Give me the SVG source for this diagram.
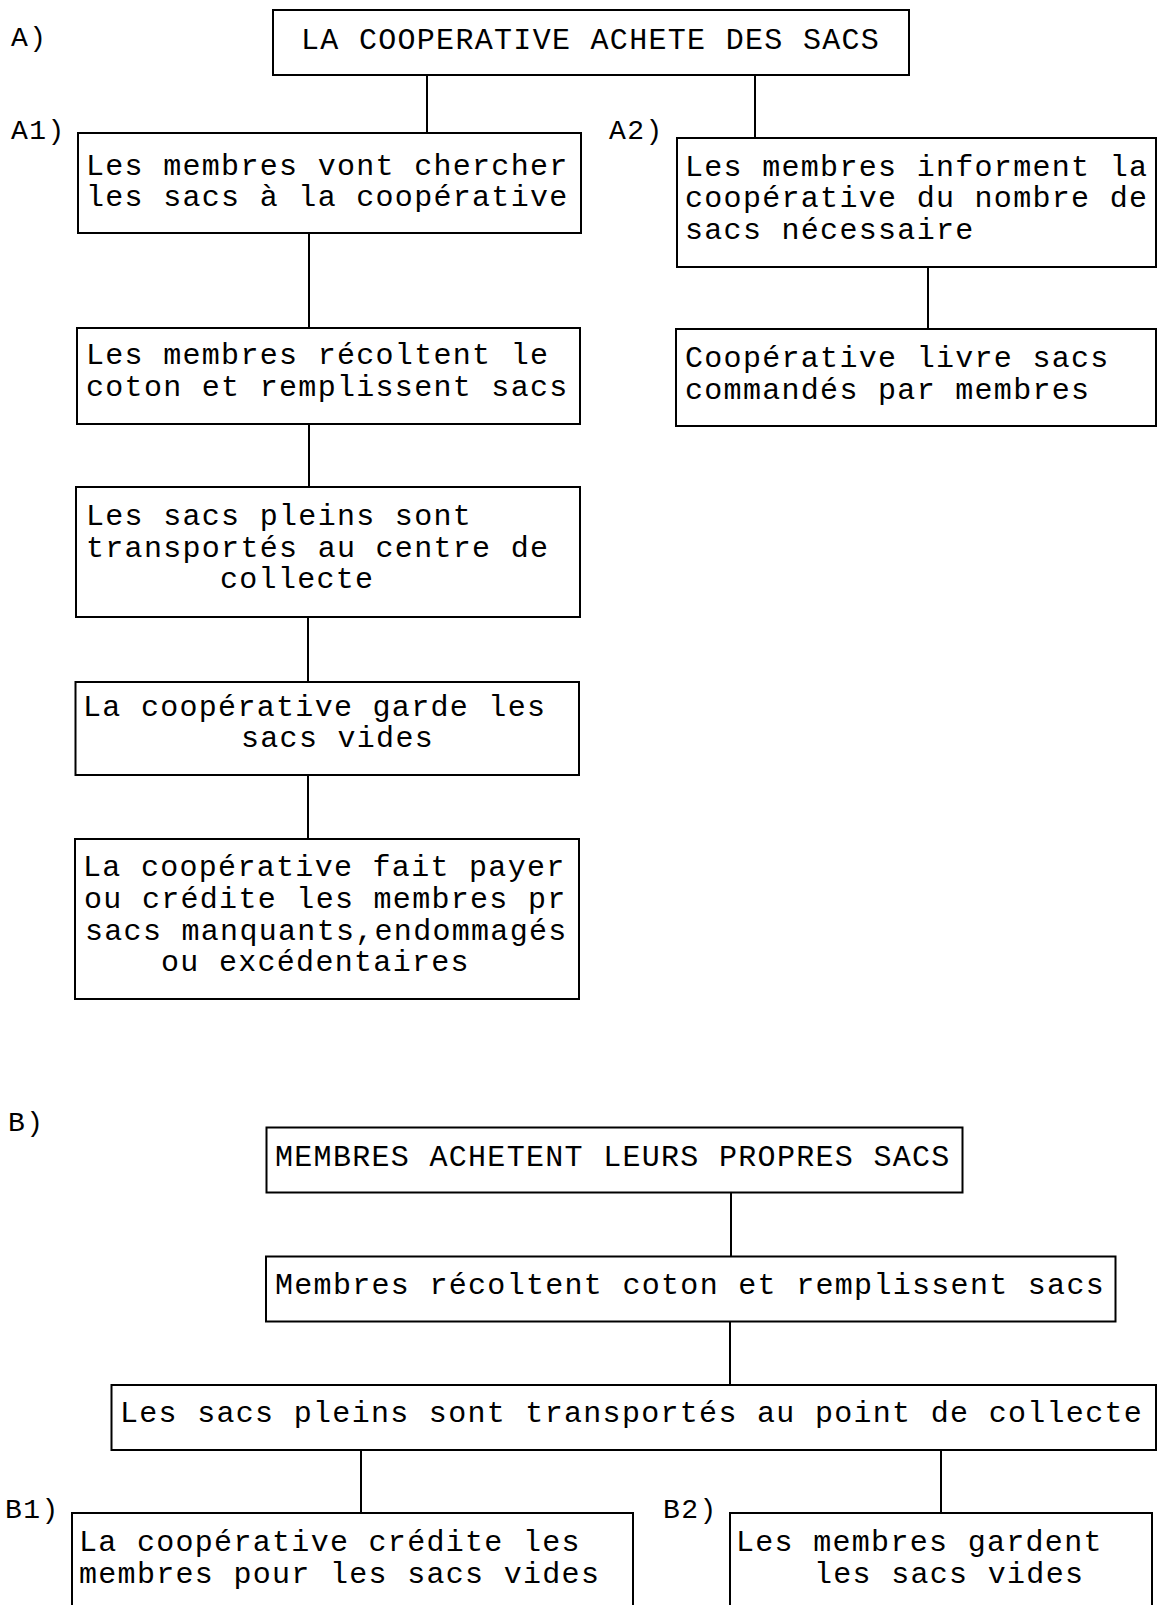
<svg xmlns="http://www.w3.org/2000/svg" width="1158" height="1605" viewBox="0 0 1158 1605">
<style>
.box{fill:#fff;stroke:#000;stroke-width:2}
.t{font-family:"Liberation Mono","DejaVu Sans Mono",monospace;font-size:30px;letter-spacing:1.3px;fill:#000}
.lbl{font-family:"Liberation Mono","DejaVu Sans Mono",monospace;font-size:28px;letter-spacing:1.5px;fill:#000}
.c{stroke:#000;stroke-width:2;fill:none}
</style>
<rect width="1158" height="1605" fill="#fff"/>
<g id="connectors">
<line class="c" x1="427" y1="75" x2="427" y2="133"/>
<line class="c" x1="755" y1="75" x2="755" y2="138"/>
<line class="c" x1="309" y1="233" x2="309" y2="328"/>
<line class="c" x1="928" y1="267" x2="928" y2="329"/>
<line class="c" x1="309" y1="424" x2="309" y2="487"/>
<line class="c" x1="308" y1="617" x2="308" y2="682"/>
<line class="c" x1="308" y1="775" x2="308" y2="839"/>
<line class="c" x1="731" y1="1192" x2="731" y2="1256"/>
<line class="c" x1="730" y1="1321" x2="730" y2="1385"/>
<line class="c" x1="361" y1="1450" x2="361" y2="1513"/>
<line class="c" x1="941" y1="1450" x2="941" y2="1513"/>
</g>
<g id="labels">
<text class="lbl" x="11" y="46">A)</text>
<text class="lbl" x="11" y="139">A1)</text>
<text class="lbl" x="609" y="139">A2)</text>
<text class="lbl" x="8" y="1131">B)</text>
<text class="lbl" x="5" y="1518">B1)</text>
<text class="lbl" x="663" y="1518">B2)</text>
</g>
<g id="nA">
<rect class="box" x="273" y="10" width="636" height="65"/>
<text class="t" x="301" y="49">LA COOPERATIVE ACHETE DES SACS</text>
</g>
<g id="nA1">
<rect class="box" x="78" y="133" width="503" height="100"/>
<text class="t" x="86" y="175">Les membres vont chercher</text>
<text class="t" x="86" y="206">les sacs à la coopérative</text>
</g>
<g id="nA2">
<rect class="box" x="677" y="138" width="479" height="129"/>
<text class="t" x="685" y="176">Les membres informent la</text>
<text class="t" x="685" y="207">coopérative du nombre de</text>
<text class="t" x="685" y="239">sacs nécessaire</text>
</g>
<g id="nA2b">
<rect class="box" x="676" y="329" width="480" height="97"/>
<text class="t" x="685" y="367">Coopérative livre sacs</text>
<text class="t" x="685" y="399">commandés par membres</text>
</g>
<g id="nA1b">
<rect class="box" x="77" y="328" width="503" height="96"/>
<text class="t" x="86" y="364">Les membres récoltent le</text>
<text class="t" x="86" y="396">coton et remplissent sacs</text>
</g>
<g id="nA1c">
<rect class="box" x="76" y="487" width="504" height="130"/>
<text class="t" x="86" y="525">Les sacs pleins sont</text>
<text class="t" x="86" y="557">transportés au centre de</text>
<text class="t" x="220" y="588">collecte</text>
</g>
<g id="nA1d">
<rect class="box" x="75.5" y="682" width="503.5" height="93"/>
<text class="t" x="83" y="716">La coopérative garde les</text>
<text class="t" x="241" y="747">sacs vides</text>
</g>
<g id="nA1e">
<rect class="box" x="75" y="839" width="504" height="160"/>
<text class="t" x="83" y="876">La coopérative fait payer</text>
<text class="t" x="84" y="908">ou crédite les membres pr</text>
<text class="t" x="85" y="940">sacs manquants,endommagés</text>
<text class="t" x="161" y="971">ou excédentaires</text>
</g>
<g id="nB">
<rect class="box" x="266.5" y="1127.5" width="696" height="65"/>
<text class="t" x="275" y="1166">MEMBRES ACHETENT LEURS PROPRES SACS</text>
</g>
<g id="nB0">
<rect class="box" x="266" y="1256.5" width="849.5" height="65"/>
<text class="t" x="275" y="1294">Membres récoltent coton et remplissent sacs</text>
</g>
<g id="nB0b">
<rect class="box" x="111.5" y="1385" width="1044.5" height="65"/>
<text class="t" x="120" y="1422">Les sacs pleins sont transportés au point de collecte</text>
</g>
<g id="nB1">
<rect class="box" x="72" y="1513" width="561" height="120"/>
<text class="t" x="79" y="1551">La coopérative crédite les</text>
<text class="t" x="79" y="1583">membres pour les sacs vides</text>
</g>
<g id="nB2">
<rect class="box" x="730" y="1513" width="422" height="120"/>
<text class="t" x="736" y="1551">Les membres gardent</text>
<text class="t" x="814" y="1583">les sacs vides</text>
</g>
</svg>
